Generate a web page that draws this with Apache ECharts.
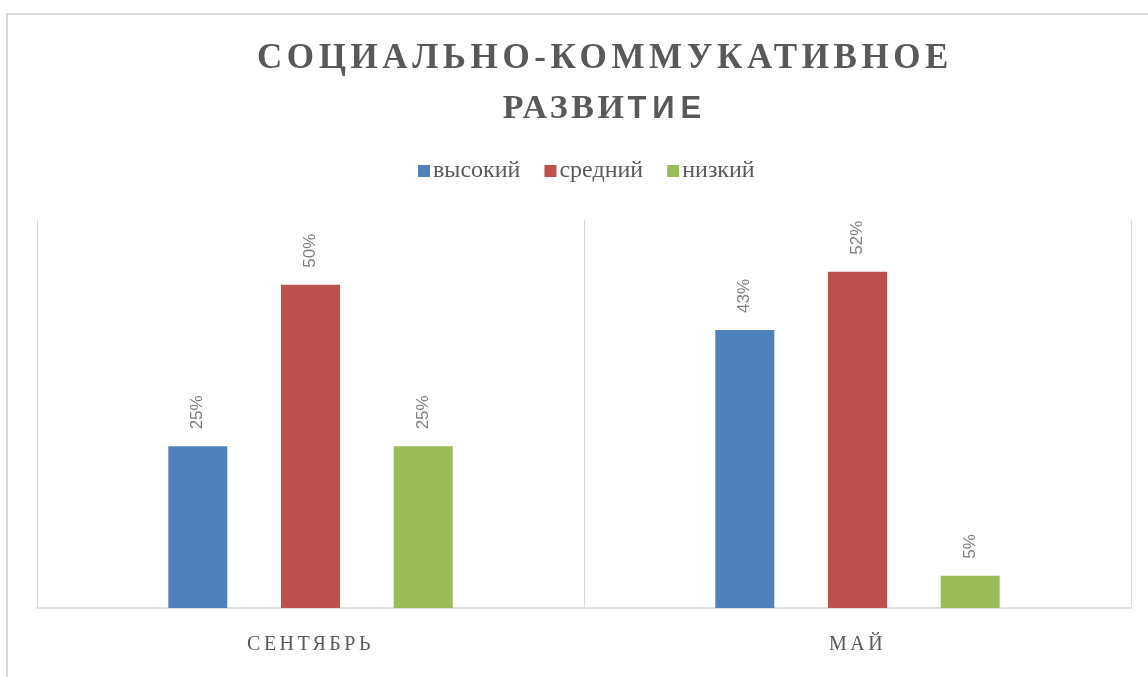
<!DOCTYPE html>
<html>
<head>
<meta charset="utf-8">
<script src="https://cdn.jsdelivr.net/npm/echarts@6/dist/echarts.min.js"></script>
<style>
  html, body { margin: 0; padding: 0; background: #fff; }
  #chart { width: 1148px; height: 677px; }
</style>
</head>
<body>
<div id="chart"></div>
<script>
// categories and series values (fractions)
const periods = ['СЕНТЯБРЬ', 'МАЙ'];
const seriesNames = ['высокий', 'средний', 'низкий'];
const highValues = [0.25, 0.43];
const midValues = [0.50, 0.52];
const lowValues = [0.25, 0.05];
const colors = ['#4f81bd', '#c0504d', '#9bbb59'];

// spaced-out capitals in the title and category labels, picked by font size
const spacingBySize = { '35px': '4.6px', '34px': '3.5px', '31px': '6px', '20px': '3.5px' };
const origFillText = CanvasRenderingContext2D.prototype.fillText;
CanvasRenderingContext2D.prototype.fillText = function (text, x, y, maxWidth) {
    const m = /(\d+)px/.exec(this.font);
    this.letterSpacing = (m && spacingBySize[m[1] + 'px']) || '0px';
    return maxWidth === undefined
        ? origFillText.call(this, text, x, y)
        : origFillText.call(this, text, x, y, maxWidth);
};

const chart = echarts.init(document.getElementById('chart'), null, { renderer: 'canvas' });

const serif = '"Liberation Serif", "Times New Roman", serif';
const sans = '"Liberation Sans", Arial, sans-serif';

function barSeries(name, values, color) {
    return {
        name: name,
        type: 'bar',
        data: values,
        barWidth: 59,
        barGap: '91%',
        itemStyle: { color: color },
        label: {
            show: true,
            position: 'top',
            rotate: 90,
            align: 'left',
            verticalAlign: 'middle',
            distance: 17,
            color: '#7f7f7f',
            fontFamily: sans,
            fontSize: 17,
            formatter: p => Math.round(p.value * 100) + '%'
        }
    };
}

const option = {
    animation: false,
    backgroundColor: '#fff',
    color: colors,
    title: {
        text: 'СОЦИАЛЬНО-КОММУКАТИВНОЕ\n{a|РАЗВИ}{b|ТИЕ}',
        left: 600,
        textAlign: 'center',
        top: 29,
        textStyle: {
            color: '#595959',
            fontFamily: serif,
            fontWeight: 'bold',
            fontSize: 35,
            lineHeight: 50,
            rich: {
                // symmetric padding keeps room for the letter spacing
                a: { color: '#595959', fontFamily: serif, fontWeight: 'bold', fontSize: 34, lineHeight: 50, padding: [0, 8.75, 0, 8.75] },
                b: { color: '#595959', fontFamily: sans, fontWeight: 'bold', fontSize: 31, lineHeight: 50, padding: [0, 9, 0, 9] }
            }
        }
    },
    legend: {
        data: seriesNames,
        top: 154,
        left: 413,
        itemWidth: 12,
        itemHeight: 12,
        itemGap: 24,
        icon: 'rect',
        textStyle: { color: '#595959', fontFamily: serif, fontSize: 24, padding: [0, 0, 0, -2] }
    },
    graphic: [{
        type: 'polyline',
        shape: { points: [[7, 680], [7, 14], [1150, 14]] },
        style: { stroke: '#d9d9d9', lineWidth: 2, fill: null },
        silent: true
    }],
    grid: { left: 37, right: 17, top: 220, bottom: 69 },
    xAxis: {
        type: 'category',
        data: periods,
        axisLine: { lineStyle: { color: '#d9d9d9', width: 1.5 } },
        axisTick: { show: false },
        splitLine: { show: true, lineStyle: { color: '#d9d9d9', width: 1 } },
        axisLabel: {
            color: '#595959',
            fontFamily: serif,
            fontSize: 20,
            margin: 27
        }
    },
    yAxis: {
        type: 'value',
        min: 0,
        max: 0.6,
        show: false,
        splitLine: { show: false }
    },
    series: [
        barSeries(seriesNames[0], highValues, colors[0]),
        barSeries(seriesNames[1], midValues, colors[1]),
        barSeries(seriesNames[2], lowValues, colors[2])
    ]
};

chart.setOption(option);
window.addEventListener('resize', chart.resize);
</script>
</body>
</html>
